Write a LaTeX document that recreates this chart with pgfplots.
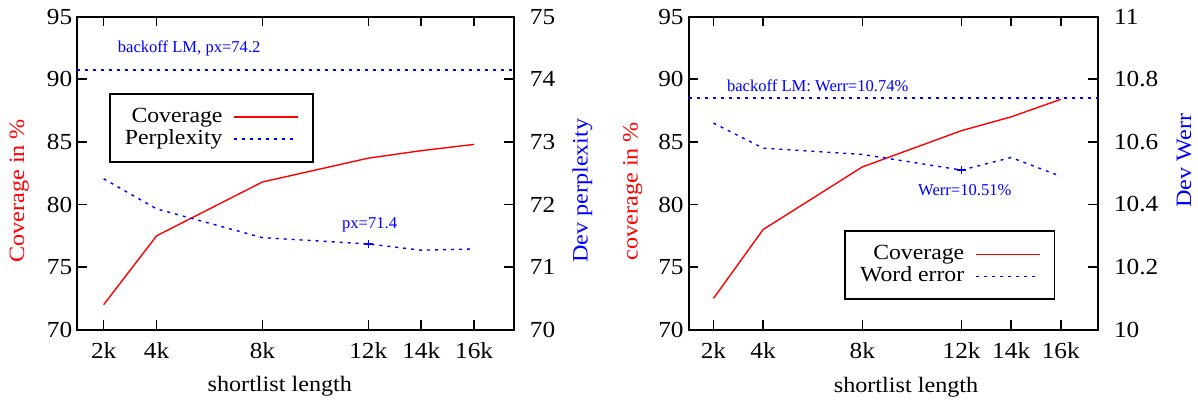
\documentclass[border=0pt]{standalone}
\usepackage{fontspec}
\setmainfont[FakeStretch=1.1]{Liberation Serif}
\newfontfamily\plainfont{Liberation Serif}
\usepackage{pgfplots}
\pgfplotsset{compat=1.18}

\definecolor{gpblue}{RGB}{0,0,255}
\definecolor{gpred}{RGB}{255,0,0}

\tikzset{
  note/.style={text=gpblue, inner sep=0pt, font=\plainfont\fontsize{8.3}{10}\selectfont},
  cov/.style={draw=gpred, line width=0.7pt},
  dsh/.style={draw=gpblue, color=gpblue, line width=0.7pt, dash pattern=on 1.5pt off 2.5pt},
}

\pgfplotsset{
  gp/.style={
    scale only axis, height=156.65pt, anchor=south west,
    xmin=1, xmax=17.5,
    xtick={2,4,8,12,14,16}, xticklabels={2k,4k,8k,12k,14k,16k},
    tick align=inside, major tick length=4.8pt,
    axis line style={line width=0.9pt},
    every tick/.style={black, line width=0.8pt},
    tick label style={font=\fontsize{11.5}{13}\selectfont},
    /pgf/number format/assume math mode=true,
    label style={font=\fontsize{11}{13}\selectfont},
    xticklabel shift=3pt,
    yticklabel shift=-1pt,
  },
  gptwin/.style={
    gp, axis x line=none, axis y line*=right,
    yticklabel shift=4.5pt,
  },
  gpleg/.style={
    scale only axis, height=156.65pt, anchor=south west,
    xmin=1, xmax=17.5, hide axis,
    legend image code/.code={\draw[##1] (0pt,0pt) -- (32pt,0pt);},
    legend plot pos=right, legend cell align=right,
    legend style={draw=black, line width=0.8pt, fill=white,
      inner xsep=7pt, inner ysep=6pt, column sep=5pt,
      font=\fontsize{10.8}{13}\selectfont,
      nodes={inner xsep=0.5pt, inner ysep=0.5pt, text height=7.5pt, text depth=2.5pt}},
  },
}

\begin{document}
\begin{tikzpicture}
\path (0,0) rectangle (599pt,200.5pt);

% left panel
\begin{axis}[gp, at={(38.65pt,35.5pt)}, width=218.5pt,
  ymin=70, ymax=95, ytick={70,75,...,95}, ytick pos=left,
  xlabel={shortlist length}, ylabel={Coverage in \%},
  xlabel style={at={(axis description cs:0.464,-0.182)}, anchor=center},
  ylabel style={at={(axis description cs:-0.133,0.444)}, anchor=center, text=gpred}]
\addplot[cov] coordinates {(2,72.0) (4,77.5) (8,81.8) (12,83.7) (14,84.3) (16,84.8)};
\end{axis}
\begin{axis}[gptwin, at={(38.65pt,35.5pt)}, width=218.5pt,
  ymin=70, ymax=75, ytick={70,71,...,75},
  ylabel={Dev perplexity},
  ylabel style={at={(axis description cs:1.157,0.444)}, anchor=center, text=gpblue}]
\node[note, anchor=west] at (axis cs:2.52,74.5) {backoff LM, px=74.2};
\node[note] at (axis cs:12.05,71.68) {px=71.4};
\end{axis}
\begin{axis}[gpleg, at={(38.65pt,35.5pt)}, width=218.5pt,
  ymin=70, ymax=75,
  legend style={at={(0.073,0.755)}, anchor=north west}]
\addlegendimage{cov}
\addplot[dsh] coordinates {(2,72.41) (4,71.93) (8,71.47) (12,71.37) (14,71.27) (16,71.29)};
\addplot[dsh, line width=0.8pt, forget plot] coordinates {(1,74.145) (17.5,74.145)};
\addplot[gpblue, only marks, mark=+, mark size=2.1pt, mark options={solid, draw=gpblue, line width=0.65pt}, forget plot] coordinates {(12,71.37)};
\legend{Coverage, Perplexity}
\end{axis}

% right panel
\begin{axis}[gp, at={(344.65pt,35.5pt)}, width=204.85pt,
  ymin=70, ymax=95, ytick={70,75,...,95}, ytick pos=left,
  xlabel={shortlist length}, ylabel={coverage in \%},
  xlabel style={at={(axis description cs:0.531,-0.185)}, anchor=center},
  ylabel style={at={(axis description cs:-0.137,0.443)}, anchor=center, text=gpred}]
\addplot[cov] coordinates {(2,72.5) (4,78.0) (8,83.0) (12,85.9) (14,87.0) (16,88.4)};
\end{axis}
\begin{axis}[gptwin, at={(344.65pt,35.5pt)}, width=204.85pt,
  ymin=10, ymax=11, ytick={10,10.2,...,11.01},
  ylabel={Dev Werr},
  ylabel style={at={(axis description cs:1.21,0.54)}, anchor=center, text=gpblue}]
\node[note, anchor=west] at (axis cs:2.53,10.78) {backoff LM: Werr=10.74\%};
\node[note] at (axis cs:12.13,10.445) {Werr=10.51\%};
\end{axis}
\begin{axis}[gpleg, at={(344.65pt,35.5pt)}, width=204.85pt,
  ymin=10, ymax=11,
  legend style={at={(0.38,0.317)}, anchor=north west}]
\addlegendimage{cov}
\addplot[dsh] coordinates {(2,10.66) (4,10.58) (8,10.56) (12,10.51) (14,10.55) (16,10.49)};
\addplot[dsh, forget plot] coordinates {(1,10.74) (17.5,10.74)};
\addplot[gpblue, only marks, mark=+, mark size=2.1pt, mark options={solid, draw=gpblue, line width=0.65pt}, forget plot] coordinates {(12,10.51)};
\legend{Coverage, Word error}
\end{axis}
\end{tikzpicture}
\end{document}
